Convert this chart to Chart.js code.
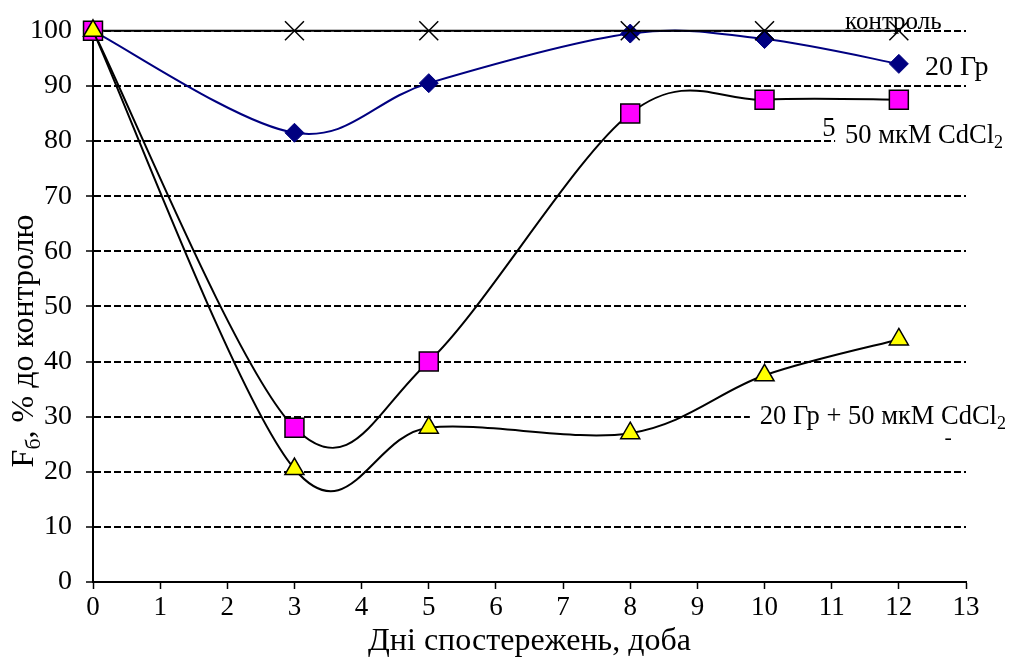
<!DOCTYPE html>
<html>
<head>
<meta charset="utf-8">
<script src="https://cdn.jsdelivr.net/npm/chart.js@4/dist/chart.umd.min.js"></script>
<style>
  html, body { margin: 0; padding: 0; background: #fff; }
  #wrap { width: 1011px; height: 661px; position: relative; }
</style>
</head>
<body>
<div id="wrap"><canvas id="c"></canvas></div>
<script>
// ---- data ----
const days = [0, 3, 5, 8, 10, 12];
const control = [100, 100, 100, 100, 100, 100];
const gy20 = [100, 81.5, 90.5, 99.5, 98.5, 94];
const cd50 = [100, 28, 40, 85, 87.5, 87.5];
const combo = [100, 20.5, 28, 27, 37.5, 44];

const seriesNames = ['контроль', '20 Гр', '50 мкМ CdCl2', '20 Гр + 50 мкМ CdCl2'];
const xTitle = 'Дні спостережень, доба';
const yTitleMain = 'F';
const yTitleSub = 'б';
const yTitleRest = ', % до контролю';

// ---- annotation texts ----
const noteTexts = ['контроль', '20 Гр', '5', '50 мкМ CdCl', '20 Гр + 50 мкМ CdCl', '-'];
const noteSubs = ['', '', '', '2', '2', ''];
// ---- annotation placement (data units) and style ----
const noteLayout = [
  { x: 11.2, y: 100.4, size: 25, bg: false },
  { x: 12.39, y: 92.0, size: 28, bg: false },
  { x: 10.86, y: 81.0, size: 26.5, bg: false },
  { x: 11.2, y: 79.6, size: 26.5, bg: true },
  { x: 9.93, y: 28.6, size: 26.5, bg: true },
  { x: 12.68, y: 25.0, size: 22, bg: false }
];

const FONT = '"Liberation Serif", "Times New Roman", serif';
const pts = (ys) => days.map((d, i) => ({ x: d, y: ys[i] }));

// Excel-like smoothing: uniform Catmull-Rom control points from the library's own point positions
const smoothPlugin = {
  id: 'smooth',
  beforeDatasetDraw(chart, args) {
    const meta = args.meta;
    const line = meta.dataset;
    if (!line || !line.options || !line.options.tension) return;
    const p = meta.data;
    for (let i = 0; i < p.length; i++) {
      const a = p[i - 1] || p[i], b = p[i], c = p[i + 1] || p[i];
      const dx = (c.x - a.x) / 6, dy = (c.y - a.y) / 6;
      b.cp1x = b.x - dx; b.cp1y = b.y - dy;
      b.cp2x = b.x + dx; b.cp2y = b.y + dy;
    }
    line._pointsUpdated = true;
    line._path = undefined;
  }
};

const notesPlugin = {
  id: 'notes',
  beforeDatasetsDraw(chart) {
    const ctx = chart.ctx;
    const xs = chart.scales.x, ys = chart.scales.y;
    ctx.save();
    ctx.textBaseline = 'alphabetic';
    ctx.textAlign = 'left';
    noteTexts.forEach((t, i) => {
      const L = noteLayout[i];
      const sub = noteSubs[i];
      const px = xs.getPixelForValue(L.x);
      const py = ys.getPixelForValue(L.y);
      const subSize = Math.round(L.size * 0.68);
      ctx.font = L.size + 'px ' + FONT;
      const w1 = ctx.measureText(t).width;
      ctx.font = subSize + 'px ' + FONT;
      const w2 = sub ? ctx.measureText(sub).width : 0;
      if (L.bg) {
        ctx.fillStyle = '#fff';
        ctx.fillRect(px - 10, py - 22, w1 + w2 + 14, 30);
      }
      ctx.fillStyle = '#000';
      ctx.font = L.size + 'px ' + FONT;
      ctx.fillText(t, px, py);
      if (sub) {
        ctx.font = subSize + 'px ' + FONT;
        ctx.fillText(sub, px + w1, py + 5);
      }
    });
    ctx.restore();
  },
  afterDraw(chart) {
    const ctx = chart.ctx;
    ctx.save();
    ctx.fillStyle = '#000';
    ctx.textBaseline = 'alphabetic';
    ctx.translate(33, 341);
    ctx.rotate(-Math.PI / 2);
    ctx.font = '32px ' + FONT;
    const a = ctx.measureText(yTitleMain).width;
    const c = ctx.measureText(yTitleRest).width;
    ctx.font = '22px ' + FONT;
    const b = ctx.measureText(yTitleSub).width;
    const x0 = -(a + b + c) / 2;
    ctx.font = '32px ' + FONT;
    ctx.fillText(yTitleMain, x0, 0);
    ctx.font = '22px ' + FONT;
    ctx.fillText(yTitleSub, x0 + a, 7);
    ctx.font = '32px ' + FONT;
    ctx.fillText(yTitleRest, x0 + a + b, 0);
    ctx.restore();
  }
};

new Chart(document.getElementById('c'), {
  type: 'line',
  data: {
    datasets: [
      {
        label: seriesNames[3], data: pts(combo),
        borderColor: '#000', borderWidth: 2, tension: 0.4,
        pointStyle: 'triangle', pointRadius: 11,
        pointBackgroundColor: '#ffff00', pointBorderColor: '#000', pointBorderWidth: 1.5,
        clip: false
      },
      {
        label: seriesNames[2], data: pts(cd50),
        borderColor: '#000', borderWidth: 2, tension: 0.4,
        pointStyle: 'rect', pointRadius: 13.4,
        pointBackgroundColor: '#ff00ff', pointBorderColor: '#000', pointBorderWidth: 1.5,
        clip: false
      },
      {
        label: seriesNames[0], data: pts(control),
        borderColor: '#000', borderWidth: 2, tension: 0,
        pointStyle: 'crossRot', pointRadius: 13.4,
        pointBorderColor: '#000', pointBorderWidth: 1.5,
        clip: false
      },
      {
        label: seriesNames[1], data: pts(gy20),
        borderColor: '#000080', borderWidth: 2, tension: 0.4,
        pointStyle: 'rectRot', pointRadius: 9.5,
        pointBackgroundColor: '#000080', pointBorderColor: '#000080', pointBorderWidth: 1,
        clip: false
      }
    ]
  },
  options: {
    responsive: true,
    maintainAspectRatio: false,
    animation: false,
    events: [],
    layout: { padding: { top: 30, right: 45, left: 0, bottom: 0 } },
    plugins: { legend: { display: false }, tooltip: { enabled: false } },
    scales: {
      x: {
        type: 'linear', min: 0, max: 13,
        afterFit(s) { s.height = 79; },
        ticks: { stepSize: 1, color: '#000', font: { family: FONT, size: 27 }, padding: 3, maxRotation: 0, autoSkip: false },
        grid: { drawOnChartArea: false, drawTicks: true, tickLength: 7, tickColor: '#000', tickWidth: 1.5, color: '#000' },
        border: { display: true, color: '#000', width: 2 },
        title: { display: true, text: xTitle, color: '#000', font: { family: FONT, size: 32 }, padding: { top: 0, bottom: 0 } }
      },
      y: {
        type: 'linear', min: 0, max: 100,
        afterFit(s) { s.width = 93; },
        ticks: { stepSize: 10, color: '#000', font: { family: FONT, size: 28 }, padding: 14 },
        grid: {
          drawTicks: true, tickLength: 7, tickColor: '#000', tickWidth: 1.5,
          color: (c) => (c.tick && c.tick.value === 0) ? 'rgba(0,0,0,0)' : '#000',
          lineWidth: 2,
          tickBorderDash: []
        },
        border: { display: true, color: '#000', width: 2, dash: [7, 3] }
      }
    }
  },
  plugins: [smoothPlugin, notesPlugin]
});
</script>
</body>
</html>
